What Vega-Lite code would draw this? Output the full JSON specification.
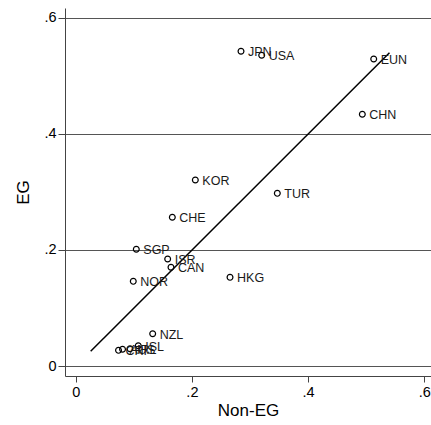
{
  "$schema": "https://vega.github.io/schema/vega-lite/v6.json",
  "width": 366,
  "height": 368,
  "autosize": "none",
  "padding": {"left": 65, "top": 8, "right": 0, "bottom": 49},
  "background": "white",
  "config": {
    "view": {"stroke": null},
    "font": "Liberation Sans",
    "axis": {
      "labelFont": "Liberation Sans",
      "titleFont": "Liberation Sans",
      "labelColor": "#000",
      "titleColor": "#000",
      "titleFontWeight": "normal",
      "domainColor": "#444",
      "tickColor": "#444",
      "labelFontSize": 14.5,
      "titleFontSize": 17
    }
  },
  "datasets": {
    "pts": [
      {"country": "JPN", "nonEG": 0.2845, "EG": 0.5426},
      {"country": "USA", "nonEG": 0.3201, "EG": 0.5357},
      {"country": "EUN", "nonEG": 0.5129, "EG": 0.5293},
      {"country": "CHN", "nonEG": 0.4933, "EG": 0.4340},
      {"country": "KOR", "nonEG": 0.2059, "EG": 0.3207},
      {"country": "TUR", "nonEG": 0.3470, "EG": 0.2977},
      {"country": "CHE", "nonEG": 0.1663, "EG": 0.2564},
      {"country": "SGP", "nonEG": 0.1043, "EG": 0.2012},
      {"country": "ISR", "nonEG": 0.1583, "EG": 0.1845},
      {"country": "CAN", "nonEG": 0.1640, "EG": 0.1702},
      {"country": "NOR", "nonEG": 0.0991, "EG": 0.1460},
      {"country": "HKG", "nonEG": 0.2656, "EG": 0.1529},
      {"country": "NZL", "nonEG": 0.1325, "EG": 0.0557},
      {"country": "CRI", "nonEG": 0.0737, "EG": 0.0270},
      {"country": "AUS", "nonEG": 0.0806, "EG": 0.0288},
      {"country": "IRL", "nonEG": 0.0935, "EG": 0.0298},
      {"country": "ISL", "nonEG": 0.1077, "EG": 0.0350}
    ],
    "fit": [
      {"nonEG": 0.0258, "EG": 0.0253},
      {"nonEG": 0.540, "EG": 0.540}
    ]
  },
  "layer": [
    {
      "data": {"name": "fit"},
      "mark": {"type": "line", "color": "#000", "strokeWidth": 1.5},
      "encoding": {
        "x": {"field": "nonEG", "type": "quantitative", "scale": {"domain": [-0.0184, 0.6115], "nice": false, "zero": false},
          "axis": {"title": "Non-EG", "values": [0, 0.2, 0.4, 0.6], "grid": false, "tickSize": 6, "labelPadding": 3, "titlePadding": 4,
            "labelExpr": "datum.value == 0 ? '0' : replace(format(datum.value, '.1f'), '0.', '.')"}},
        "y": {"field": "EG", "type": "quantitative", "scale": {"domain": [-0.01724, 0.6172], "nice": false, "zero": false},
          "axis": {"title": "EG", "values": [0, 0.2, 0.4, 0.6], "grid": true, "gridColor": "#555", "gridOpacity": 1, "gridWidth": 1, "tickSize": 7, "labelPadding": 2, "titlePadding": 11, "labelAngle": 0,
            "labelExpr": "datum.value == 0 ? '0' : replace(format(datum.value, '.1f'), '0.', '.')"}}
      }
    },
    {
      "data": {"name": "pts"},
      "mark": {"type": "point", "shape": "circle", "filled": false, "color": "#000", "strokeWidth": 1.2, "size": 34, "opacity": 1},
      "encoding": {
        "x": {"field": "nonEG", "type": "quantitative"},
        "y": {"field": "EG", "type": "quantitative"}
      }
    },
    {
      "data": {"name": "pts"},
      "mark": {"type": "text", "align": "left", "baseline": "middle", "dx": 7, "dy": 1, "fontSize": 12.5, "color": "#1a1a1a", "font": "Liberation Sans"},
      "encoding": {
        "x": {"field": "nonEG", "type": "quantitative"},
        "y": {"field": "EG", "type": "quantitative"},
        "text": {"field": "country"}
      }
    }
  ]
}
